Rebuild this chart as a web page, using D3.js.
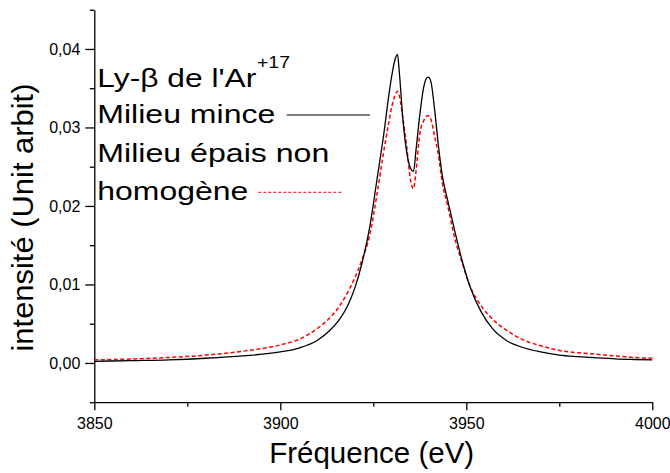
<!DOCTYPE html>
<html>
<head>
<meta charset="utf-8">
<script src="https://cdn.jsdelivr.net/npm/d3@7"></script>
<style>
  body { margin: 0; background: #fff; }
  svg { display: block; font-family: "Liberation Sans", Arial, sans-serif; }
  .axis path, .axis line { stroke: #000; stroke-width: 1.3; }
  .axis text { font-size: 16px; fill: #000; }
</style>
</head>
<body>
<div id="chart"></div>
<script>
// energy grid (eV)
const energy = [3850, 3860, 3870, 3880, 3890, 3900, 3905, 3910, 3913, 3916, 3918, 3920, 3922, 3924,
    3926, 3928, 3929, 3930, 3931, 3931.5, 3932, 3933, 3934, 3935, 3935.8, 3936.5, 3937.5, 3938.5,
    3939.2, 3939.8, 3940.5, 3941.5, 3942.5, 3943.5, 3945, 3947, 3949, 3951, 3954, 3957, 3961, 3965,
    3970, 3975, 3980, 3985, 3990, 3995, 4000];

// Milieu mince (solid black)
const thin = [0.0002, 0.0003, 0.0004, 0.0006, 0.0009, 0.0014, 0.0019, 0.0029, 0.0040, 0.0056, 0.0072, 0.0095, 0.0128, 0.0172,
    0.0234, 0.0298, 0.0335, 0.0367, 0.0389, 0.0393, 0.0370, 0.0308, 0.0268, 0.0248, 0.0244, 0.0272, 0.0316, 0.0350,
    0.0362, 0.0364, 0.0358, 0.0322, 0.0277, 0.0240, 0.0207, 0.0166, 0.0128, 0.0097, 0.0065, 0.0044, 0.0028, 0.0020,
    0.0014, 0.0010, 0.0008, 0.00065, 0.00052, 0.00044, 0.00038];

// Milieu épais non homogène (red dashed)
const thick = [0.0004, 0.0005, 0.0007, 0.0010, 0.0015, 0.0023, 0.0030, 0.0044, 0.0056, 0.0073, 0.0089, 0.0108, 0.0132, 0.0162,
    0.0215, 0.0275, 0.0302, 0.0327, 0.0343, 0.0346, 0.0340, 0.0310, 0.0275, 0.0233, 0.0222, 0.0245, 0.0292, 0.0308,
    0.0314, 0.0315, 0.0310, 0.0288, 0.0265, 0.0231, 0.0200, 0.0157, 0.0126, 0.0098, 0.0073, 0.0056, 0.0041, 0.0030,
    0.0022, 0.0016, 0.0013, 0.0011, 0.0009, 0.0007, 0.0006];

const xTicks = [3850, 3900, 3950, 4000];
const xMinor = [3875, 3925, 3975];
const yTicks = [0, 0.01, 0.02, 0.03, 0.04];
const yMinor = [-0.005, 0.005, 0.015, 0.025, 0.035, 0.045];

const W = 670, H = 473;
const margin = {top: 9.7, right: 17.7, bottom: 70.8, left: 94.3};
const width = W - margin.left - margin.right;
const height = H - margin.top - margin.bottom;

const svg = d3.select("#chart").append("svg")
    .attr("width", W)
    .attr("height", H);

const g = svg.append("g")
    .attr("transform", `translate(${margin.left},${margin.top})`);

const x = d3.scaleLinear().domain([3850, 4000]).range([0, width]);
const y = d3.scaleLinear().domain([-0.005, 0.045]).range([height, 0]);

const fr = d3.formatLocale({decimal: ",", thousands: "", grouping: [3], currency: ["", ""]});

// axes
g.append("g")
    .attr("class", "axis")
    .attr("transform", `translate(0,${height})`)
    .call(d3.axisBottom(x).tickValues(xMinor).tickSize(4.5).tickFormat(""))
    .call(a => a.select(".domain").remove());

g.append("g")
    .attr("class", "axis")
    .attr("transform", `translate(0,${height})`)
    .call(d3.axisBottom(x).tickValues(xTicks).tickSizeInner(8).tickSizeOuter(0).tickPadding(7).tickFormat(d3.format("d")));

g.append("g")
    .attr("class", "axis")
    .call(d3.axisLeft(y).tickValues(yMinor).tickSize(4.5).tickFormat(""))
    .call(a => a.select(".domain").remove());

g.append("g")
    .attr("class", "axis")
    .call(d3.axisLeft(y).tickValues(yTicks).tickSizeInner(9).tickSizeOuter(0).tickPadding(5).tickFormat(fr.format(".2f")));

// axis titles
svg.append("text")
    .attr("x", 371.7)
    .attr("y", 463)
    .attr("text-anchor", "middle")
    .style("font-size", "29.5px")
    .text("Fréquence (eV)");

svg.append("text")
    .attr("transform", "translate(33,217.5) rotate(-90)")
    .attr("text-anchor", "middle")
    .style("font-size", "29px")
    .attr("textLength", 268)
    .attr("lengthAdjust", "spacingAndGlyphs")
    .text("intensité (Unit arbit)");

// curves
const line = (vals) => d3.line()
    .x((d, i) => x(energy[i]))
    .y(d => y(d))
    .curve(d3.curveMonotoneX)(vals);

g.append("path")
    .attr("d", line(thick))
    .attr("fill", "none")
    .attr("stroke", "#ff0000")
    .attr("stroke-width", 1.5)
    .attr("stroke-dasharray", "4,2.5");

g.append("path")
    .attr("d", line(thin))
    .attr("fill", "none")
    .attr("stroke", "#000")
    .attr("stroke-width", 1.3);

// legend
const legend = svg.append("g").style("font-size", "26px");

legend.append("text")
    .attr("x", 97.3).attr("y", 86.7)
    .attr("textLength", 159).attr("lengthAdjust", "spacingAndGlyphs")
    .text("Ly-β de l'Ar");
legend.append("text")
    .attr("x", 257).attr("y", 68.3)
    .style("font-size", "16px")
    .attr("textLength", 33).attr("lengthAdjust", "spacingAndGlyphs")
    .text("+17");

legend.append("text")
    .attr("x", 97.3).attr("y", 123.3)
    .attr("textLength", 178).attr("lengthAdjust", "spacingAndGlyphs")
    .text("Milieu mince");
legend.append("line")
    .attr("x1", 286.7).attr("x2", 370).attr("y1", 115).attr("y2", 115)
    .attr("stroke", "#000").attr("stroke-width", 1.2);

legend.append("text")
    .attr("x", 97.3).attr("y", 161.7)
    .attr("textLength", 232).attr("lengthAdjust", "spacingAndGlyphs")
    .text("Milieu épais non");

legend.append("text")
    .attr("x", 97.3).attr("y", 200)
    .attr("textLength", 151).attr("lengthAdjust", "spacingAndGlyphs")
    .text("homogène");
legend.append("line")
    .attr("x1", 258.3).attr("x2", 343.3).attr("y1", 192.3).attr("y2", 192.3)
    .attr("stroke", "#ff0000").attr("stroke-width", 1)
    .attr("stroke-dasharray", "3,2");
</script>
</body>
</html>
